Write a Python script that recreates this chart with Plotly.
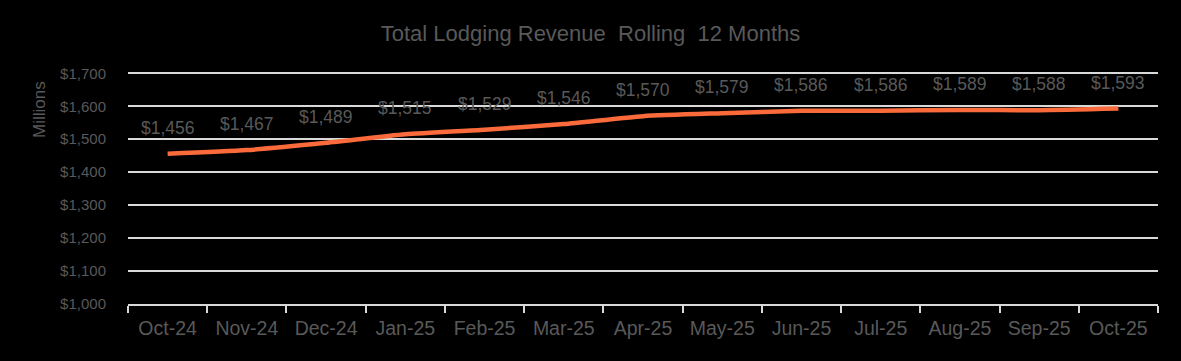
import plotly.graph_objects as go

months = ["Oct-24", "Nov-24", "Dec-24", "Jan-25", "Feb-25", "Mar-25", "Apr-25",
          "May-25", "Jun-25", "Jul-25", "Aug-25", "Sep-25", "Oct-25"]
revenue = [1456, 1467, 1489, 1515, 1529, 1546, 1570, 1579, 1586, 1586, 1589, 1588, 1593]
y_ticks = [1000, 1100, 1200, 1300, 1400, 1500, 1600, 1700]

FONT = "Liberation Sans, Arial, sans-serif"
GRAY = "#595959"

fig = go.Figure()
fig.add_trace(go.Scatter(
    x=months, y=revenue, mode="lines",
    line=dict(color="#FA6A3A", width=4.5, shape="spline", smoothing=0.6),
    hoverinfo="skip", showlegend=False,
))

for m, v in zip(months, revenue):
    fig.add_annotation(x=m, y=v, text=f"${v:,}", showarrow=False, yshift=26,
                       font=dict(family=FONT, size=17.5, color=GRAY))

# Rotated "Millions" unit label near the top of the y axis
fig.add_annotation(text="Millions", xref="paper", yref="paper",
                   x=(40 - 128) / 1030, y=(304 - 110) / 234,
                   xanchor="center", yanchor="middle", textangle=-90, showarrow=False,
                   font=dict(family=FONT, size=17, color=GRAY))

fig.update_layout(
    width=1181, height=361,
    paper_bgcolor="black", plot_bgcolor="black",
    margin=dict(l=128, r=23, t=70, b=57),
    title=dict(text="Total Lodging Revenue  Rolling  12 Months", x=0.5, xanchor="center",
               y=1 - 33 / 361, yanchor="middle",
               font=dict(family=FONT, size=22, color=GRAY)),
    font=dict(family=FONT, color=GRAY),
)
fig.update_xaxes(
    type="category", tickson="boundaries", ticks="outside", ticklen=7, tickwidth=2,
    tickcolor="#D9D9D9", showline=True, linecolor="#D9D9D9", linewidth=2,
    showgrid=False, tickfont=dict(family=FONT, size=19.5, color=GRAY),
    ticklabelstandoff=6,
    range=[-0.5, 12.5],
)
fig.update_yaxes(
    range=[1000, 1710], tickvals=y_ticks, ticktext=[f"${v:,}" for v in y_ticks],
    showgrid=True, gridcolor="#D9D9D9", gridwidth=2, zeroline=False,
    ticks="outside", ticklen=18, tickcolor="rgba(0,0,0,0)",
    tickfont=dict(family=FONT, size=15, color=GRAY),
)
fig.write_html(
    "out.html",
    config={"displayModeBar": False},
    post_script="document.body.style.margin='0';document.body.style.background='black';",
)
